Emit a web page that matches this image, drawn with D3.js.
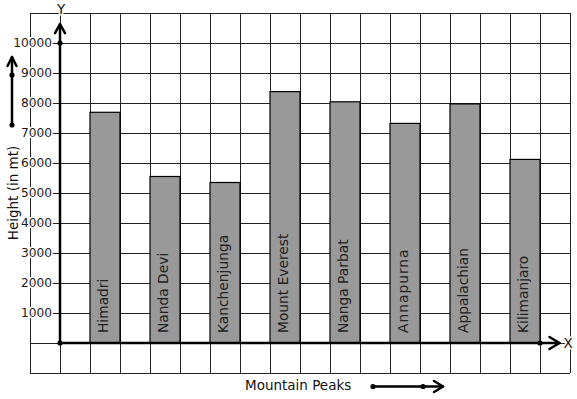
<!DOCTYPE html>
<html>
<head>
<meta charset="utf-8">
<script src="https://cdn.jsdelivr.net/npm/d3@7"></script>
<style>
  html, body { margin: 0; padding: 0; background: #fff; }
  svg { display: block; font-family: "DejaVu Sans", sans-serif; }
</style>
</head>
<body>
<div id="chart"></div>
<script>
// mountain peaks and heights
const peaks = ["Himadri", "Nanda Devi", "Kanchenjunga", "Mount Everest",
  "Nanga Parbat", "Annapurna", "Appalachian", "Kilimanjaro"];
const heights = [7690, 5550, 5350, 8380, 8040, 7320, 7970, 6120];
const yTicks = [1000, 2000, 3000, 4000, 5000, 6000, 7000, 8000, 9000, 10000];

const width = 577, height = 399;

const svg = d3.select("#chart").append("svg")
  .attr("width", width)
  .attr("height", height);

// grid runs one cell beyond the axes on every side
const y = d3.scaleLinear().domain([-1000, 11000]).range([373, 13]);
const gx = d3.scaleLinear().domain([-1, 17]).range([30, 570]);
const x = d3.scaleBand()
  .domain(peaks)
  .range([gx(0), gx(16)])
  .paddingInner(0.5)
  .paddingOuter(0.25)
  .align(1);

// grid
const grid = svg.append("g")
  .attr("stroke", "#222")
  .attr("stroke-width", 1)
  .attr("shape-rendering", "crispEdges");
grid.selectAll(".v")
  .data(d3.range(-1, 18))
  .join("line")
  .attr("x1", d => gx(d)).attr("x2", d => gx(d))
  .attr("y1", y(11000)).attr("y2", y(-1000));
grid.selectAll(".h")
  .data(d3.range(-1000, 11001, 1000))
  .join("line")
  .attr("x1", gx(-1)).attr("x2", gx(17))
  .attr("y1", d => y(d)).attr("y2", d => y(d));

// bars
svg.append("g")
  .selectAll("rect")
  .data(peaks)
  .join("rect")
  .attr("x", d => x(d))
  .attr("y", (d, i) => y(heights[i]))
  .attr("width", x.bandwidth())
  .attr("height", (d, i) => y(0) - y(heights[i]))
  .attr("fill", "#999")
  .attr("stroke", "#000")
  .attr("stroke-width", 1.2);

// bar labels
svg.append("g")
  .selectAll("text")
  .data(peaks)
  .join("text")
  .attr("transform", d => `translate(${x(d) + x.bandwidth() / 2 - 1.5},${y(0) - 10}) rotate(-90)`)
  .attr("dy", "0.35em")
  .attr("font-size", 13.8)
  .attr("fill", "#222")
  .attr("letter-spacing", d => d === "Annapurna" ? 1 : 0)
  .text(d => d);

// y axis ticks
const yAxis = svg.append("g")
  .attr("transform", `translate(${gx(0)},0)`)
  .call(d3.axisLeft(y).tickValues(yTicks).tickFormat(d3.format("d")).tickSize(7).tickPadding(1))
  .call(g => g.select(".domain").remove());
yAxis.selectAll(".tick line").attr("stroke", "#222");
yAxis.selectAll(".tick text")
  .attr("font-size", 12.2)
  .attr("font-family", "DejaVu Sans, sans-serif")
  .attr("fill", "#1a1a1a")
  .attr("stroke", "#fff")
  .attr("stroke-width", 3)
  .attr("paint-order", "stroke");

// axes with arrows
const axes = svg.append("g")
  .attr("stroke", "#000")
  .attr("stroke-width", 2.5)
  .attr("fill", "none")
  .attr("stroke-linecap", "round")
  .attr("stroke-linejoin", "round");
const ox = gx(0), oy = y(0);
const yTip = y(10630), xTip = gx(16.65);
axes.append("line").attr("x1", ox).attr("y1", oy).attr("x2", ox).attr("y2", yTip);
axes.append("path").attr("d", `M${ox - 5},${yTip + 9}L${ox},${yTip}L${ox + 5},${yTip + 9}`);
axes.append("line").attr("x1", ox).attr("y1", oy).attr("x2", xTip).attr("y2", oy);
axes.append("path").attr("d", `M${xTip - 10},${oy - 6}L${xTip},${oy}L${xTip - 10},${oy + 6}`);

// left direction arrow
axes.append("line").attr("x1", 12).attr("y1", 125).attr("x2", 12).attr("y2", 57);
axes.append("path").attr("d", "M7.5,66L12,57L16.5,66");
// bottom direction arrow
axes.append("line").attr("x1", 373).attr("y1", 386.5).attr("x2", 443).attr("y2", 386.5);
axes.append("path").attr("d", "M434,381L443,386.5L434,392");

const dots = [
  [ox, oy], [ox, y(10000)], [gx(16), oy],
  [12, 75], [12, 125], [373, 386.5], [423, 386.5]
];
svg.append("g")
  .selectAll("circle")
  .data(dots)
  .join("circle")
  .attr("cx", d => d[0])
  .attr("cy", d => d[1])
  .attr("r", 2.6)
  .attr("fill", "#000");

// labels
const label = (t, px, py, opts = {}) => svg.append("text")
  .attr("x", px).attr("y", py)
  .attr("font-size", opts.size || 13)
  .attr("text-anchor", opts.anchor || "middle")
  .attr("dy", "0.35em")
  .attr("fill", "#111")
  .attr("stroke", "#fff")
  .attr("stroke-width", 3)
  .attr("paint-order", "stroke")
  .text(t);

label("Y", ox + 1, 9, { size: 13.5 });
label("X", 568, oy, { size: 13.5 });
label("Mountain Peaks", 245, 385, { size: 13.5, anchor: "start" });

svg.append("text")
  .attr("transform", "translate(13,193) rotate(-90)")
  .attr("text-anchor", "middle")
  .attr("dy", "0.35em")
  .attr("font-size", 13.5)
  .attr("fill", "#111")
  .attr("stroke", "#fff")
  .attr("stroke-width", 3)
  .attr("paint-order", "stroke")
  .text("Height (in mt)");
</script>
</body>
</html>
